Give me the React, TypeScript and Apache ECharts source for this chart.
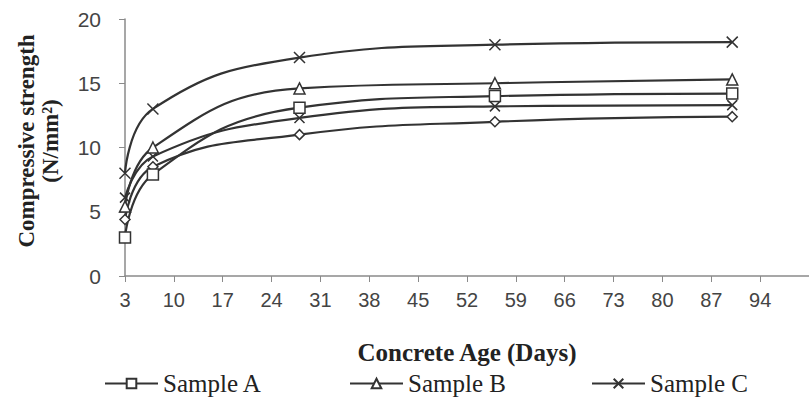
import React, { useEffect, useRef } from "react";
import * as echarts from "echarts";

const days = [3, 7, 28, 56, 90];
const sampleA = [3.0, 7.9, 13.1, 14.0, 14.2];
const sampleB = [5.4, 10.0, 14.6, 15.0, 15.3];
const sampleC = [8.0, 13.0, 17.0, 18.0, 18.2];
const sampleD = [4.4, 8.5, 11.0, 12.0, 12.4];
const sampleE = [6.1, 9.3, 12.3, 13.2, 13.3];

const xTitle = "Concrete Age (Days)";
const yTitle = "Compressive strength\n(N/mm²)";

const LINE = "#333333";
const crossPath = "path://M0,0L10,10M10,0L0,10";

function pairs(vals: number[]) {
  return days.map((d, i) => [d, vals[i]]);
}

export default function App() {
  const ref = useRef<HTMLDivElement>(null);
  useEffect(() => {
    if (!ref.current) return;
    const chart = echarts.init(ref.current, null, { renderer: "svg" });
    const mk = (name: string, vals: number[], symbol: string, size: number) => ({
      name,
      type: "line",
      data: pairs(vals),
      smooth: 0.45,
      symbol,
      symbolSize: size,
      showAllSymbol: true,
      lineStyle: { color: LINE, width: 2.2 },
      itemStyle: { color: "#ffffff", borderColor: LINE, borderWidth: 1.5 },
      emphasis: { disabled: true },
    });
    const legendBase = {
      top: 366,
      itemWidth: 53,
      itemHeight: 12,
      textStyle: { fontFamily: "Liberation Serif", fontSize: 25, color: "#222" },
    };
    chart.setOption({
      animation: false,
      backgroundColor: "#ffffff",
      grid: { left: 125, right: -11, top: 19, bottom: 127 },
      graphic: [
        {
          type: "text",
          x: 38,
          y: 141,
          rotation: Math.PI / 2,
          style: {
            text: yTitle,
            align: "center",
            verticalAlign: "middle",
            fontFamily: "Liberation Serif",
            fontWeight: "bold",
            fontSize: 23,
            lineHeight: 24,
            fill: "#222",
          },
        },
      ],
      xAxis: {
        type: "value",
        min: 3,
        max: 101,
        interval: 7,
        name: xTitle,
        nameLocation: "middle",
        nameGap: 64,
        nameTextStyle: {
          fontFamily: "Liberation Serif",
          fontWeight: "bold",
          fontSize: 25,
          color: "#222",
          verticalAlign: "top",
        },
        axisLine: { show: true, lineStyle: { color: "#8a8a8a", width: 1.5 } },
        axisTick: { show: true, length: 6, lineStyle: { color: "#8a8a8a" } },
        axisLabel: {
          showMaxLabel: false,
          margin: 14,
          fontFamily: "Liberation Sans",
          fontSize: 20,
          color: "#444",
        },
        splitLine: { show: false },
      },
      yAxis: {
        type: "value",
        min: 0,
        max: 20,
        interval: 5,
        axisLine: { show: true, lineStyle: { color: "#8a8a8a", width: 1.5 } },
        axisTick: { show: true, length: 6, lineStyle: { color: "#8a8a8a" } },
        axisLabel: {
          margin: 24,
          fontFamily: "Liberation Sans",
          fontSize: 21,
          color: "#444",
        },
        splitLine: { show: false },
      },
      legend: [
        { ...legendBase, left: 99, data: ["Sample A"] },
        { ...legendBase, left: 344, data: ["Sample B"] },
        { ...legendBase, left: 586, data: ["Sample C"] },
      ],
      series: [
        mk("Sample D", sampleD, "diamond", 10),
        mk("Sample E", sampleE, crossPath, 10),
        mk("Sample A", sampleA, "rect", 11),
        mk("Sample B", sampleB, "triangle", 11),
        mk("Sample C", sampleC, crossPath, 11),
      ],
    });
    return () => chart.dispose();
  }, []);
  return (
    <div
      ref={ref}
      style={{ position: "fixed", left: 0, top: 0, width: 809, height: 403, background: "#fff" }}
    />
  );
}
